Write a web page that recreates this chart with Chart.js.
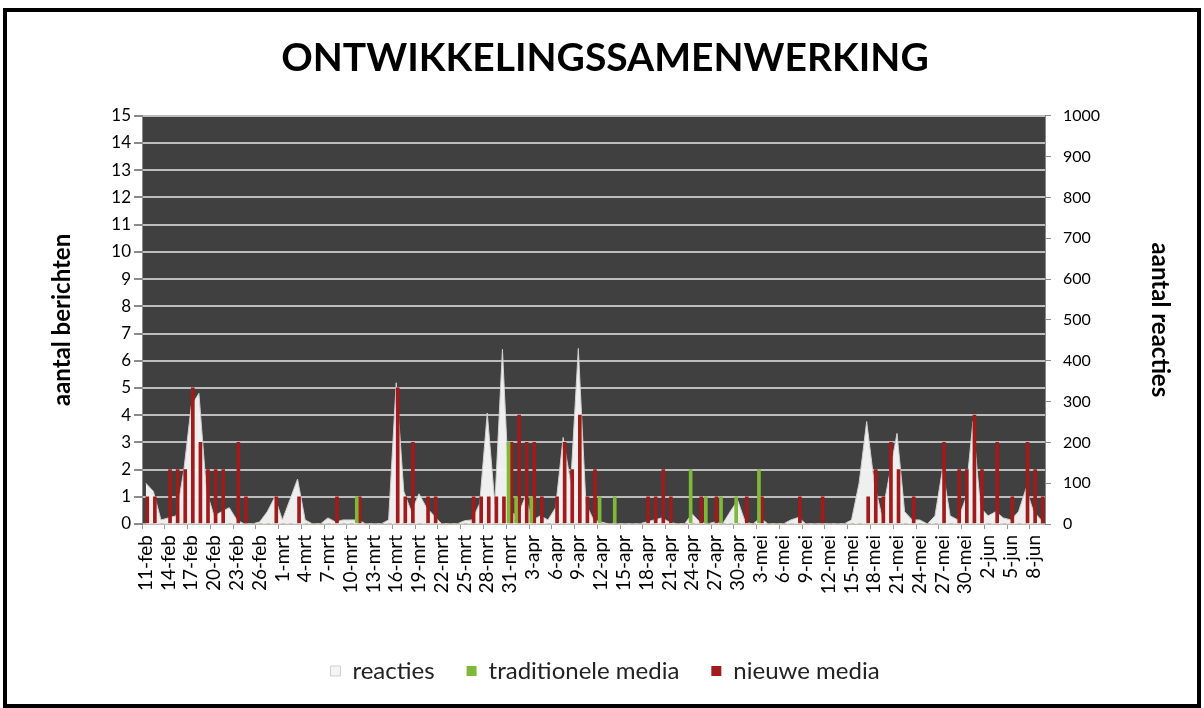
<!DOCTYPE html>
<html>
<head>
<meta charset="utf-8">
<script src="https://cdn.jsdelivr.net/npm/chart.js@4.4.1/dist/chart.umd.min.js"></script>
<style>
  html, body { margin: 0; padding: 0; background: #fff; }
  #wrap { position: absolute; left: 0; top: 0; width: 1204px; height: 708px; }
  #frame { position: absolute; left: 3px; top: 8px; width: 1190px; height: 692px; border: 4px solid #000; pointer-events: none; }
</style>
</head>
<body>
<div id="wrap"><canvas id="myChart" width="1204" height="708"></canvas></div>
<div id="frame"></div>
<script>
// day labels 11-feb .. 9-jun
const months = [['feb', 11, 28], ['mrt', 1, 31], ['apr', 1, 30], ['mei', 1, 31], ['jun', 1, 9]];
const days = [];
months.forEach(([m, from, to]) => {
  for (let d = from; d <= to; d++) days.push(d + '-' + m);
});

// aantal reacties (right axis)
const reacties = [
  100, 80, 10, 15, 20, 130, 290, 320, 80, 20,
  30, 40, 10, 0, 0, 5, 30, 66, 10, 60,
  110, 10, 0, 0, 15, 5, 10, 10, 10, 0,
  0, 0, 10, 346, 80, 30, 74, 40, 20, 0,
  0, 0, 8, 10, 50, 272, 50, 428, 30, 20,
  66, 10, 20, 10, 40, 212, 100, 430, 50, 10,
  5, 0, 0, 0, 0, 0, 5, 10, 15, 5,
  0, 0, 25, 5, 0, 5, 0, 30, 58, 5,
  0, 15, 0, 0, 0, 10, 16, 0, 0, 0,
  0, 0, 0, 10, 100, 251, 100, 20, 120, 222,
  30, 10, 10, 0, 20, 135, 20, 10, 60, 251,
  40, 20, 30, 15, 10, 30, 87, 30, 10
];

// aantal berichten traditionele media (left axis)
const traditioneel = [
  0, 0, 0, 0, 0, 0, 0, 0, 0, 0,
  0, 0, 0, 0, 0, 0, 0, 0, 0, 0,
  0, 0, 0, 0, 0, 0, 0, 0, 1, 0,
  0, 0, 0, 0, 0, 0, 0, 0, 0, 0,
  0, 0, 0, 0, 0, 0, 0, 0, 3, 1,
  0, 1, 0, 0, 0, 0, 0, 0, 0, 0,
  1, 0, 1, 0, 0, 0, 0, 0, 0, 0,
  0, 0, 2, 0, 1, 0, 1, 0, 1, 0,
  0, 2, 0, 0, 0, 0, 0, 0, 0, 0,
  0, 0, 0, 0, 0, 0, 0, 0, 0, 0,
  0, 0, 0, 0, 0, 0, 0, 0, 0, 0,
  0, 0, 0, 0, 0, 0, 0, 0, 0
];

// aantal berichten nieuwe media (left axis)
const nieuw = [
  1, 1, 0, 2, 2, 2, 5, 3, 2, 2,
  2, 0, 3, 1, 0, 0, 0, 1, 0, 0,
  1, 0, 0, 0, 0, 1, 0, 0, 1, 0,
  0, 0, 0, 5, 1, 3, 0, 1, 1, 0,
  0, 0, 0, 1, 1, 1, 1, 1, 3, 4,
  3, 3, 1, 0, 1, 3, 2, 4, 1, 2,
  0, 0, 0, 0, 0, 0, 1, 1, 2, 1,
  0, 0, 0, 1, 0, 1, 0, 0, 0, 1,
  0, 1, 0, 0, 0, 0, 1, 0, 0, 1,
  0, 0, 0, 0, 0, 1, 2, 1, 3, 2,
  0, 1, 0, 0, 0, 3, 0, 2, 2, 4,
  2, 0, 3, 0, 1, 0, 3, 2, 1
];

const leftTicks = { min: 0, max: 15, step: 1 };
const rightTicks = { min: 0, max: 1000, step: 100 };

const plotBg = {
  id: 'plotBg',
  beforeDraw(chart) {
    const { ctx, chartArea: a, width, height } = chart;
    ctx.save();
    ctx.fillStyle = '#ffffff';
    ctx.fillRect(0, 0, width, height);
    ctx.fillStyle = '#404040';
    ctx.fillRect(a.left, a.top, a.right - a.left, a.bottom - a.top);
    ctx.restore();
  }
};

const font = 'Lato';
const ctx = document.getElementById('myChart');

new Chart(ctx, {
  type: 'bar',
  data: {
    labels: days,
    datasets: [
      {
        type: 'line',
        label: 'reacties',
        data: reacties,
        yAxisID: 'y1',
        fill: 'origin',
        backgroundColor: 'rgba(245,245,245,0.97)',
        borderColor: '#cfcfcf',
        borderWidth: 1,
        pointRadius: 0,
        tension: 0,
        order: 2
      },
      {
        label: 'traditionele media',
        data: traditioneel,
        yAxisID: 'y',
        backgroundColor: '#7fb93a',
        barThickness: 3,
        order: 1
      },
      {
        label: 'nieuwe media',
        data: nieuw,
        yAxisID: 'y',
        backgroundColor: '#a11a1c',
        barThickness: 3,
        order: 1
      }
    ]
  },
  options: {
    responsive: false,
    animation: false,
    layout: { padding: { left: 20, right: 14, top: 12, bottom: 15 } },
    plugins: {
      title: {
        display: true,
        text: 'ONTWIKKELINGSSAMENWERKING',
        color: '#000',
        font: { family: font, size: 39, weight: 'bold' },
        padding: { top: 23, bottom: 34 }
      },
      legend: {
        position: 'bottom',
        labels: {
          color: '#222',
          font: { family: font, size: 24 },
          boxWidth: 10,
          boxHeight: 10,
          padding: 32,
          sort: (a, b) => a.datasetIndex - b.datasetIndex
        }
      },
      tooltip: { enabled: false }
    },
    scales: {
      x: {
        offset: true,
        grid: {
          offset: true,
          drawOnChartArea: false,
          tickLength: 5,
          color: (c) => (c.index % 3 === 0 ? '#9a9a9a' : 'rgba(0,0,0,0)')
        },
        border: { color: '#bdbdbd' },
        ticks: {
          autoSkip: false,
          maxRotation: 90,
          minRotation: 90,
          padding: 6,
          color: '#000',
          font: { family: font, size: 19 },
          callback: function (v, i) { return i % 3 === 0 ? this.getLabelForValue(v) : ''; }
        },
        afterFit: (s) => { s.height = 103; }
      },
      y: {
        position: 'left',
        min: leftTicks.min,
        max: leftTicks.max,
        ticks: { stepSize: leftTicks.step, color: '#000', padding: 3, font: { family: font, size: 17 } },
        grid: { color: '#bdbdbd', lineWidth: 2, tickColor: '#8a8a8a', tickLength: 8 },
        border: { color: '#8a8a8a' },
        title: {
          display: true,
          text: 'aantal berichten',
          color: '#000',
          font: { family: font, size: 24, weight: 'bold' },
          padding: { top: 28, bottom: 0 }
        },
        afterFit: (s) => { s.width = 122; }
      },
      y1: {
        position: 'right',
        min: rightTicks.min,
        max: rightTicks.max,
        ticks: {
          stepSize: rightTicks.step,
          color: '#000',
          padding: 12,
          font: { family: font, size: 16 },
          callback: (v) => String(v)
        },
        grid: { drawOnChartArea: false, tickColor: '#8a8a8a', tickLength: 6 },
        border: { color: '#8a8a8a' },
        title: {
          display: true,
          text: 'aantal reacties',
          color: '#000',
          font: { family: font, size: 24, weight: 'bold' },
          padding: { top: 16, bottom: 0 }
        },
        afterFit: (s) => { s.width = 145; }
      }
    }
  },
  plugins: [plotBg]
});
</script>
</body>
</html>
